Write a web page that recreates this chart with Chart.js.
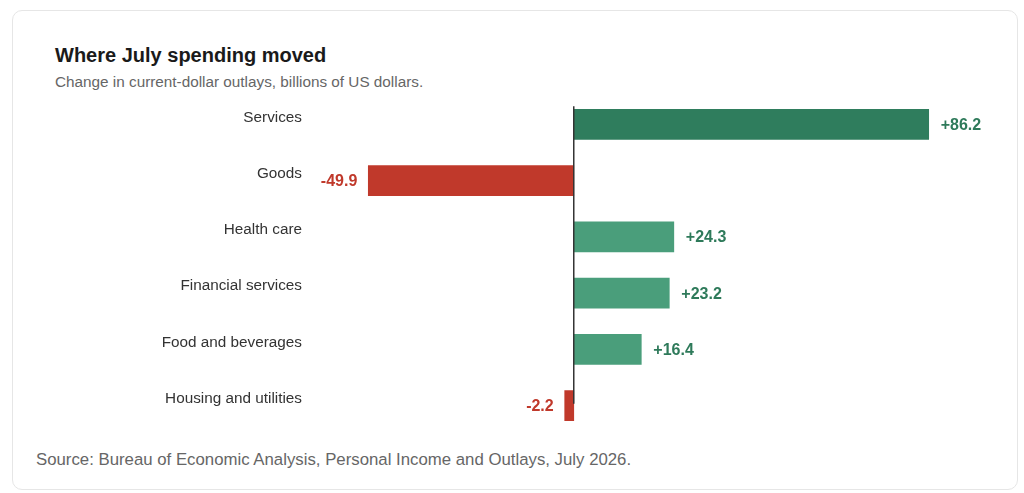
<!DOCTYPE html>
<html>
<head>
<meta charset="utf-8">
<script src="https://cdn.jsdelivr.net/npm/chart.js@4"></script>
<style>
  html, body { margin: 0; padding: 0; background: #fff; }
  body { width: 1024px; height: 493px; position: relative; overflow: hidden; font-family: "Liberation Sans", Arial, sans-serif; }
  .card { position: absolute; left: 12px; top: 10px; width: 1004px; height: 478px; border: 1px solid #e6e6e6; border-radius: 10px; background: #fff; }
  .title { position: absolute; left: 55px; top: 44px; font-size: 20px; font-weight: bold; color: #1a1a1a; }
  .subtitle { position: absolute; left: 55px; top: 73px; font-size: 15.3px; color: #666; }
  .source { position: absolute; left: 36px; top: 450px; font-size: 16.8px; color: #666; }
  .plot { position: absolute; left: 12px; top: 87px; width: 1006px; height: 356px; }
</style>
</head>
<body>
<div class="card"></div>
<div class="title">Where July spending moved</div>
<div class="subtitle">Change in current-dollar outlays, billions of US dollars.</div>
<div class="plot"><canvas id="chart"></canvas></div>
<div class="source">Source: Bureau of Economic Analysis, Personal Income and Outlays, July 2026.</div>
<script>
// --- DATA ---
const categories = ['Services', 'Goods', 'Health care', 'Financial services', 'Food and beverages', 'Housing and utilities'];
const changes = [86.2, -49.9, 24.3, 23.2, 16.4, -2.2];
const barColors = ['#2f7d5d', '#c0392b', '#4a9e7b', '#4a9e7b', '#4a9e7b', '#c0392b'];

const POS_TEXT = '#2e7a5a';
const NEG_TEXT = '#c0392b';

// value labels + zero line drawn on top of the bars
const overlayPlugin = {
    id: 'overlay',
    afterDatasetsDraw(chart) {
        const ctx = chart.ctx;
        const area = chart.chartArea;
        const x0 = chart.scales.x.getPixelForValue(0);

        ctx.save();
        ctx.strokeStyle = '#333';
        ctx.lineWidth = 1.5;
        ctx.beginPath();
        ctx.moveTo(x0, area.top + 10);
        ctx.lineTo(x0, area.bottom - 30);
        ctx.stroke();

        ctx.font = 'bold 16px "Liberation Sans", Arial, sans-serif';
        ctx.textBaseline = 'middle';
        chart.getDatasetMeta(0).data.forEach((bar, i) => {
            const v = changes[i];
            if (v >= 0) {
                ctx.fillStyle = POS_TEXT;
                ctx.textAlign = 'left';
                ctx.fillText('+' + v.toFixed(1), bar.x + 12, bar.y + 1);
            } else {
                ctx.fillStyle = NEG_TEXT;
                ctx.textAlign = 'right';
                ctx.fillText(v.toFixed(1), bar.x - 11, bar.y + 1);
            }
        });
        ctx.restore();
    }
};

new Chart(document.getElementById('chart'), {
    type: 'bar',
    data: {
        labels: categories,
        datasets: [{
            data: changes,
            backgroundColor: barColors,
            borderWidth: 0,
            barThickness: 30
        }]
    },
    options: {
        indexAxis: 'y',
        responsive: true,
        maintainAspectRatio: false,
        animation: false,
        layout: { padding: { left: 0, right: 16, top: 0, bottom: 0 } },
        scales: {
            x: {
                display: false,
                min: -66,
                max: 104
            },
            y: {
                grid: { display: false, drawTicks: false },
                border: { display: false },
                afterFit: scale => { scale.width = 290; },
                ticks: {
                    padding: 0,
                    labelOffset: -7,
                    color: '#333',
                    font: { size: 15.3, family: '"Liberation Sans", Arial, sans-serif' }
                }
            }
        },
        plugins: {
            legend: { display: false },
            tooltip: { enabled: false }
        }
    },
    plugins: [overlayPlugin]
});
</script>
</body>
</html>
